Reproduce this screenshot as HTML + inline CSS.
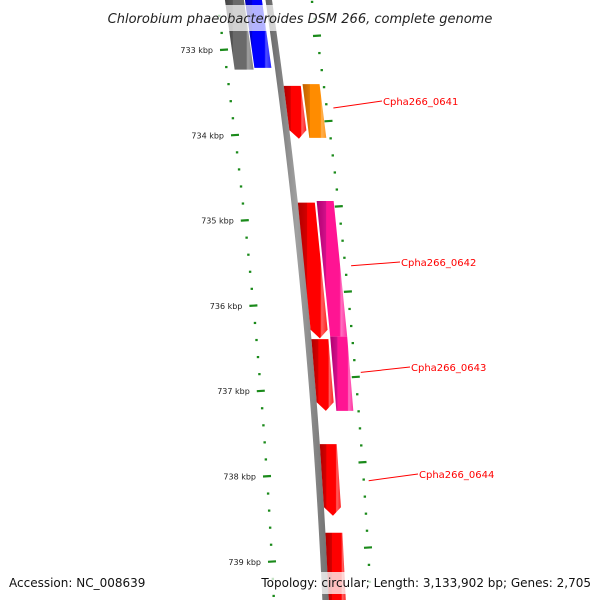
<!DOCTYPE html>
<html><head><meta charset="utf-8"><style>
html,body{margin:0;padding:0;background:#fff}
svg{display:block}
</style></head><body>
<svg id="map" width="600" height="600" viewBox="0 0 600 600" xmlns="http://www.w3.org/2000/svg">
<defs>
<linearGradient id="gRed" x1="0" x2="1" y1="0" y2="0"><stop offset="0" stop-color="#b00000"/><stop offset="0.3" stop-color="#d40000"/><stop offset="0.32" stop-color="#ff0000"/><stop offset="0.75" stop-color="#ff0000"/><stop offset="0.8" stop-color="#ff6060"/><stop offset="1" stop-color="#ff2020"/></linearGradient>
<linearGradient id="gMag" x1="0" x2="1" y1="0" y2="0"><stop offset="0" stop-color="#b00070"/><stop offset="0.3" stop-color="#d0108a"/><stop offset="0.32" stop-color="#ff1493"/><stop offset="0.75" stop-color="#ff1493"/><stop offset="0.8" stop-color="#ff70c0"/><stop offset="1" stop-color="#ff30a0"/></linearGradient>
<linearGradient id="gOra" x1="0" x2="1" y1="0" y2="0"><stop offset="0" stop-color="#c06000"/><stop offset="0.3" stop-color="#e07800"/><stop offset="0.32" stop-color="#ff8c00"/><stop offset="0.75" stop-color="#ff8c00"/><stop offset="0.8" stop-color="#ffb050"/><stop offset="1" stop-color="#ff9a20"/></linearGradient>
<linearGradient id="gGray" x1="0" x2="1" y1="0" y2="0"><stop offset="0" stop-color="#404040"/><stop offset="0.3" stop-color="#555"/><stop offset="0.32" stop-color="#6a6a6a"/><stop offset="0.75" stop-color="#6a6a6a"/><stop offset="0.8" stop-color="#a0a0a0"/><stop offset="1" stop-color="#808080"/></linearGradient>
<linearGradient id="gBlue" x1="0" x2="1" y1="0" y2="0"><stop offset="0" stop-color="#0000b0"/><stop offset="0.3" stop-color="#0000d0"/><stop offset="0.32" stop-color="#0000ff"/><stop offset="0.75" stop-color="#0000ff"/><stop offset="0.8" stop-color="#5050ff"/><stop offset="1" stop-color="#2020ff"/></linearGradient>
<linearGradient id="gBack" x1="0" x2="1" y1="0" y2="0"><stop offset="0" stop-color="#606060"/><stop offset="0.5" stop-color="#a0a0a0"/><stop offset="1" stop-color="#707070"/></linearGradient>
</defs>
<g id="layer"></g>
<rect x="95" y="5" width="410" height="26" fill="#fff" fill-opacity="0.7"/>
<text x="300" y="23" text-anchor="middle" font-family="'DejaVu Sans','Liberation Sans',sans-serif" font-style="italic" font-size="13" fill="#222">Chlorobium phaeobacteroides DSM 266, complete genome</text>
<rect x="5" y="572" width="100" height="22" fill="#fff" fill-opacity="0.75"/>
<rect x="258" y="572" width="336" height="22" fill="#fff" fill-opacity="0.75"/>
<text x="9" y="587" font-family="'DejaVu Sans','Liberation Sans',sans-serif" font-size="12" fill="#111">Accession: NC_008639</text>
<text x="591" y="587" text-anchor="end" font-family="'DejaVu Sans','Liberation Sans',sans-serif" font-size="12" fill="#111">Topology: circular; Length: 3,133,902 bp; Genes: 2,705</text>
</svg>
<script>
// data
const geneStarts = [732.3, 732.3, 733.42, 733.40, 734.79, 734.77, 736.39, 736.36, 737.62, 738.66];
const geneEnds   = [733.23, 733.21, 734.04, 734.03, 736.38, 736.36, 737.23, 737.23, 738.46, 739.6];
const geneLanes  = ['rev2', 'rev1', 'fwd1', 'fwd2', 'fwd1', 'fwd2', 'fwd1', 'fwd2', 'fwd1', 'fwd1'];
const geneColors = ['gGray', 'gBlue', 'gRed', 'gOra', 'gRed', 'gMag', 'gRed', 'gMag', 'gRed', 'gRed'];
const geneArrows = [false, false, true, false, true, false, true, false, true, false];
const tickKbp = [733, 734, 735, 736, 737, 738, 739];
const labelNames = ['Cpha266_0641', 'Cpha266_0642', 'Cpha266_0643', 'Cpha266_0644'];
const labelGeneKbp = [733.75, 735.6, 736.85, 738.12];
const labelTextY = [101, 262, 367, 474];
const labelTextX = [383, 401, 411, 419];

const svgNS = 'http://www.w3.org/2000/svg';
const layer = document.getElementById('layer');
function yOf(k){ return 50 + (k - 733) * 85.3; }
function dxOf(k){ const t = k - 733; return 11.6 * t - 0.6 * t * t; }
function xOf(k, off){ return 224 + dxOf(k) + off; }
const laneOff = { rev2: [8, 27], rev1: [28, 45], fwd1: [55, 72], fwd2: [74, 91] };
function mk(tag, attrs){ const e = document.createElementNS(svgNS, tag); for (const a in attrs) e.setAttribute(a, attrs[a]); return e; }

// ticks
for (let k = 732.4; k <= 739.45; k += 0.2) {
  const kk = Math.round(k * 10) / 10;
  const major = Math.abs(kk - Math.round(kk)) < 0.01;
  const y = yOf(kk);
  const xl = xOf(kk, 0);
  const tl = mk('line', { x1: xl - (major ? 4 : 1.2), y1: y, x2: xl + (major ? 4 : 1.2), y2: y + (major ? -0.5 : 0), stroke: '#1a8a1a', 'stroke-width': 2.2 });
  
  
  layer.appendChild(tl);
  const yr = y - 14;
  const xr = xOf(kk, 93) + (kk - 733) * 0.5;
  const tr = mk('line', { x1: xr - (major ? 4 : 1.2), y1: yr, x2: xr + (major ? 4 : 1.2), y2: yr - (major ? 0.5 : 0), stroke: '#1a8a1a', 'stroke-width': 2.2 });
  
  
  layer.appendChild(tr);
}
tickKbp.forEach(k => {
  const t = mk('text', { x: xOf(k, 0) - 11, y: yOf(k) + 3, 'text-anchor': 'end', 'font-family': "'DejaVu Sans','Liberation Sans',sans-serif", 'font-size': 8, fill: '#222' });
  t.textContent = k + ' kbp';
  
  
  layer.appendChild(t);
});

// backbone
(function(){
  const k0 = 732.3, k1 = 739.5;
  const pts = [];
  for (let k = k0; k <= k1 + 0.001; k += 0.1) pts.push([xOf(k, 48.5), yOf(k)]);
  for (let k = k1; k >= k0 - 0.001; k -= 0.1) pts.push([xOf(k, 55), yOf(k)]);
  const p = mk('polygon', { points: pts.map(q => q.join(',')).join(' '), fill: 'url(#gBack)' });
  
  
  layer.appendChild(p);
})();

function drawGene(s, e, off, fill, name, arrowDown){
  const a = Math.min(s, e), b = Math.max(s, e);
  const pts = [];
  const bodyEnd = arrowDown ? b - 0.1 : b;
  pts.push([xOf(a, off[0]), yOf(a)], [xOf(a, off[1]), yOf(a)], [xOf(bodyEnd, off[1]), yOf(bodyEnd)]);
  if (arrowDown) pts.push([xOf(b, (off[0] + off[1]) / 2), yOf(b)]);
  pts.push([xOf(bodyEnd, off[0]), yOf(bodyEnd)]);
  const p = mk('polygon', { points: pts.map(q => q.join(',')).join(' '), fill: 'url(#' + fill + ')' });
  
  
  layer.appendChild(p);
}
geneStarts.forEach((s, i) => {
  drawGene(s, geneEnds[i], laneOff[geneLanes[i]], geneColors[i], 'gene-' + geneColors[i].slice(1).toLowerCase(), geneArrows[i]);
});

// labels
labelNames.forEach((n, i) => {
  const k = labelGeneKbp[i];
  const x0 = xOf(k, 101), y0 = yOf(k) - 6;
  const tx = labelTextX[i];
  const l = mk('line', { x1: x0, y1: y0, x2: tx - 1, y2: labelTextY[i], stroke: '#ff0000', 'stroke-width': 1 });
  
  
  layer.appendChild(l);
  const t = mk('text', { x: tx, y: labelTextY[i] + 4, 'font-family': "'DejaVu Sans','Liberation Sans',sans-serif", 'font-size': 10, fill: '#ff0000' });
  t.textContent = n;
  
  
  layer.appendChild(t);
});
</script>
</body></html>
